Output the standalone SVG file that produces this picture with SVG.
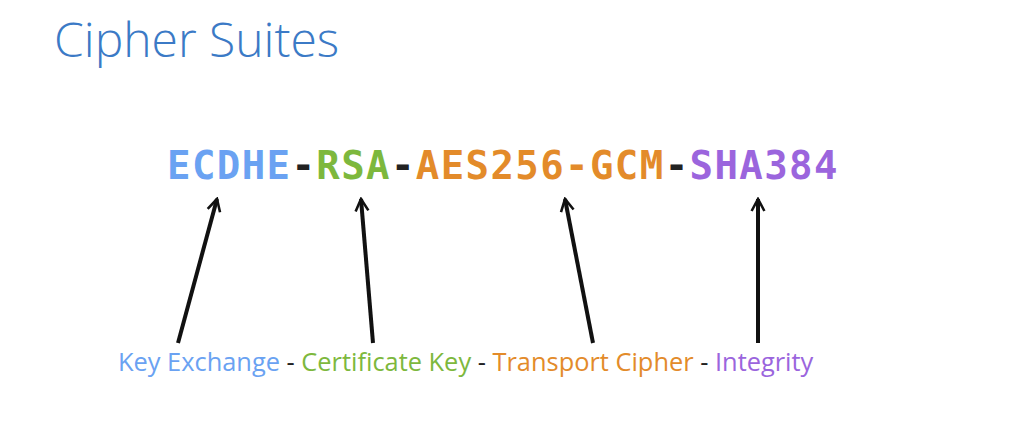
<svg xmlns="http://www.w3.org/2000/svg" width="1024" height="430" viewBox="0 0 1024 430">
  <style>
    .title { font-family: "Open Sans", "Liberation Sans", sans-serif; font-weight: 300; font-size: 48px; fill: #3b7ac6; }
    .code { font-family: "DejaVu Sans Mono", "Liberation Mono", monospace; font-weight: bold; font-size: 39px; letter-spacing: 1.4px; }
    .label { font-family: "Open Sans", "Liberation Sans", sans-serif; font-size: 25.4px; }
    .kx { fill: #6aa2f2; }
    .ck { fill: #7db83d; }
    .tc { fill: #e38b2a; }
    .in { fill: #9b65dd; }
    .dash { fill: #222222; }
    .arrow { stroke: #111111; stroke-width: 4; fill: none; marker-end: url(#head); }
  </style>
  <defs>
    <marker id="head" viewBox="0 0 10 10" refX="8.5" refY="5" markerWidth="4" markerHeight="4" orient="auto" markerUnits="strokeWidth">
      <path d="M1,1 L8.5,5 L1,9" fill="none" stroke="#111111" stroke-width="1.6"/>
    </marker>
  </defs>
  <rect width="1024" height="430" fill="#ffffff"/>
  <g id="title">
    <text class="title" x="54" y="57">Cipher Suites</text>
  </g>
  <g id="suite">
    <text class="code" x="167" y="179"><tspan class="kx">ECDHE</tspan><tspan class="dash">-</tspan><tspan class="ck">RSA</tspan><tspan class="dash">-</tspan><tspan class="tc">AES256-GCM</tspan><tspan class="dash">-</tspan><tspan class="in">SHA384</tspan></text>
  </g>
  <g id="labels">
    <text class="label" x="118" y="371"><tspan class="kx">Key Exchange</tspan><tspan fill="#222222"> - </tspan><tspan class="ck">Certificate Key</tspan><tspan fill="#222222"> - </tspan><tspan class="tc">Transport Cipher</tspan><tspan fill="#222222"> - </tspan><tspan class="in">Integrity</tspan></text>
  </g>
  <g id="connectors">
    <line class="arrow" x1="178" y1="343" x2="217" y2="199"/>
    <line class="arrow" x1="373" y1="343" x2="361" y2="199"/>
    <line class="arrow" x1="593" y1="343" x2="565" y2="199"/>
    <line class="arrow" x1="758" y1="343" x2="758" y2="199"/>
  </g>
</svg>
